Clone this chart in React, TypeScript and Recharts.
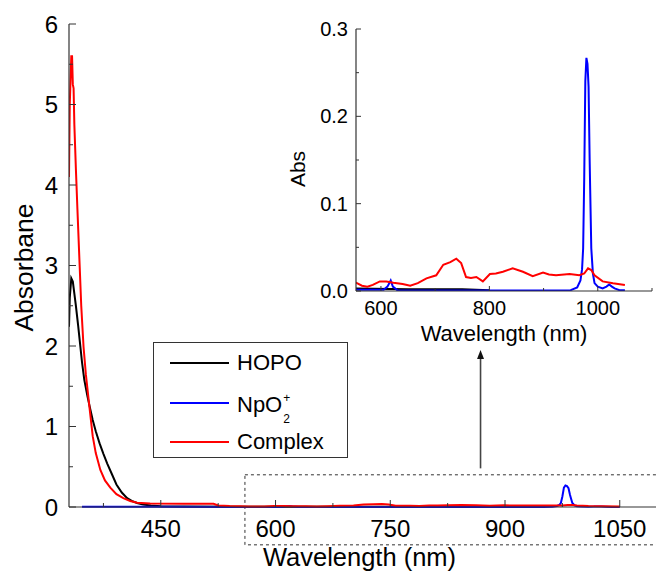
import React from 'react';
import { LineChart, Line, XAxis, YAxis, ReferenceArea, ReferenceLine, Legend } from 'recharts';

// ---------- data ----------
const hopoNm = [330, 331, 333, 335, 337, 339, 342, 344, 347, 350, 354, 357, 361, 365, 370, 375, 380, 386, 392, 399, 406, 412, 419, 427, 437, 450, 480, 550, 650, 750, 800];
const hopoAbs = [2.24, 2.6, 2.84, 2.8, 2.65, 2.5, 2.25, 2.07, 1.8, 1.58, 1.38, 1.25, 1.08, 0.94, 0.79, 0.66, 0.54, 0.41, 0.28, 0.18, 0.11, 0.075, 0.05, 0.03, 0.018, 0.01, 0.006, 0.003, 0.002, 0.002, 0.001];

const npoNm = [347, 450, 550, 605, 612, 618, 622, 630, 700, 800, 950, 962, 968, 971, 973, 975, 977, 979, 981, 983, 985, 986, 988, 991, 994, 1000, 1009, 1016, 1021, 1026, 1031, 1040, 1050];
const npoAbs = [0.002, 0.002, 0.0015, 0.0015, 0.005, 0.012, 0.005, 0.001, 0.0005, 0.0005, 0.001, 0.004, 0.012, 0.025, 0.049, 0.13, 0.24, 0.267, 0.26, 0.234, 0.15, 0.116, 0.049, 0.02, 0.009, 0.005, 0.003, 0.005, 0.0075, 0.005, 0.003, 0.001, 0.001];

const complexNm = [330, 331, 332, 333, 334, 335, 336, 337, 339, 341, 344, 346, 349, 352, 357, 361, 365, 371, 377, 384, 392, 401, 410, 419, 436, 480, 519, 525, 540, 554, 565, 575, 585, 598, 610, 623, 640, 654, 668, 684, 702, 715, 728, 739, 748, 757, 766, 776, 788, 801, 812, 825, 843, 862, 880, 899, 910, 923, 948, 966, 975, 982, 988, 994, 1009, 1028, 1050];
const complexAbs = [4.1, 5.0, 5.3, 5.6, 5.6, 5.25, 5.2, 4.75, 4.2, 3.7, 2.98, 2.5, 1.99, 1.65, 1.22, 0.88, 0.67, 0.46, 0.33, 0.24, 0.16, 0.11, 0.075, 0.053, 0.045, 0.04, 0.04, 0.02, 0.012, 0.0095, 0.006, 0.005, 0.007, 0.011, 0.011, 0.0095, 0.008, 0.006, 0.009, 0.0145, 0.018, 0.03, 0.033, 0.037, 0.032, 0.016, 0.015, 0.016, 0.011, 0.0195, 0.02, 0.022, 0.026, 0.022, 0.017, 0.021, 0.019, 0.018, 0.0195, 0.018, 0.02, 0.026, 0.024, 0.018, 0.011, 0.009, 0.007];

const seriesNames = ['HOPO', 'NpO2+', 'Complex'];
const seriesColors = ['#000000', '#0000ff', '#ff0000'];

const mainXDomain = [330, 1100];
const mainYDomain = [0, 6];
const mainXTicks = [450, 600, 750, 900, 1050];
const mainXMinorTicks = [375, 525, 675, 825, 975];
const mainYTicks = [0, 1, 2, 3, 4, 5, 6];
const mainYMinorTicks = [0.5, 1.5, 2.5, 3.5, 4.5, 5.5];

const insetXDomain = [554, 1100];
const insetYDomain = [0, 0.3];
const insetXTicks = [600, 800, 1000];
const insetXMinorTicks = [700, 900, 1100];
const insetYTicks = [0, 0.1, 0.2, 0.3];
const insetYMinorTicks = [0.05, 0.15, 0.25];

// zoom-box annotation (data coordinates)
const zoomBoxX = [560, 1130];
const zoomBoxY = [-0.47, 0.4];
const arrowX = 868;
const arrowY = [0.48, 1.95];

const toPoints = (xs: number[], ys: number[]) => xs.map((x, i) => ({ x, y: ys[i] }));
const hopoData = toPoints(hopoNm, hopoAbs);
const npoData = toPoints(npoNm, npoAbs);
const complexData = toPoints(complexNm, complexAbs);
const seriesData = [hopoData, npoData, complexData];

const FONT = "'Liberation Sans', Arial, Helvetica, sans-serif";
const AXIS = '#333333';

const has = (arr: number[], v: number) => arr.some((t) => Math.abs(t - v) < 1e-6);

// ---------- ticks ----------
const MainXTick = (props: any) => {
  const { x, y, payload } = props;
  const major = has(mainXTicks, payload.value);
  return (
    <g>
      <line x1={x} y1={y} x2={x} y2={y - (major ? 7 : 4)} stroke={AXIS} strokeWidth={1} />
      {major && (
        <text x={x} y={y + 30} textAnchor="middle" fontSize={24} fontFamily={FONT} fill="#000">
          {payload.value}
        </text>
      )}
    </g>
  );
};

const MainYTick = (props: any) => {
  const { x, y, payload } = props;
  const major = has(mainYTicks, payload.value);
  return (
    <g>
      <line x1={x} y1={y} x2={x + (major ? 7 : 4)} y2={y} stroke={AXIS} strokeWidth={1} />
      {major && (
        <text x={x - 11} y={y + 8.5} textAnchor="end" fontSize={24} fontFamily={FONT} fill="#000">
          {payload.value}
        </text>
      )}
    </g>
  );
};

const InsetXTick = (props: any) => {
  const { x, y, payload } = props;
  const major = has(insetXTicks, payload.value);
  return (
    <g>
      <line x1={x} y1={y} x2={x} y2={y - (major ? 5 : 3)} stroke={AXIS} strokeWidth={1} />
      {major && (
        <text x={x} y={y + 24} textAnchor="middle" fontSize={20} fontFamily={FONT} fill="#000">
          {payload.value}
        </text>
      )}
    </g>
  );
};

const InsetYTick = (props: any) => {
  const { x, y, payload } = props;
  const major = has(insetYTicks, payload.value);
  return (
    <g>
      <line x1={x} y1={y} x2={x + (major ? 5 : 3)} y2={y} stroke={AXIS} strokeWidth={1} />
      {major && (
        <text x={x - 8} y={y + 7} textAnchor="end" fontSize={20} fontFamily={FONT} fill="#000">
          {Number(payload.value).toFixed(1)}
        </text>
      )}
    </g>
  );
};

// ---------- labels ----------
const MainXLabel = (props: any) => {
  const vb = props.viewBox;
  return (
    <text x={vb.x + vb.width / 2 - 4} y={vb.y + 59} textAnchor="middle" fontSize={25.5} fontFamily={FONT} fill="#000">
      Wavelength (nm)
    </text>
  );
};
const MainYLabel = (props: any) => {
  const vb = props.viewBox;
  const cx = vb.x + 33;
  const cy = vb.y + vb.height / 2 + 2;
  return (
    <text x={cx} y={cy} transform={`rotate(-90 ${cx} ${cy})`} textAnchor="middle" fontSize={26.5} fontFamily={FONT} fill="#000">
      Absorbane
    </text>
  );
};
const InsetXLabel = (props: any) => {
  const vb = props.viewBox;
  return (
    <text x={vb.x + vb.width / 2} y={vb.y + 50} textAnchor="middle" fontSize={22} fontFamily={FONT} fill="#000">
      Wavelength (nm)
    </text>
  );
};
const InsetYLabel = (props: any) => {
  const vb = props.viewBox;
  const cx = vb.x + 35;
  const cy = vb.y + vb.height / 2 + 9;
  return (
    <text x={cx} y={cy} transform={`rotate(-90 ${cx} ${cy})`} textAnchor="middle" fontSize={21} fontFamily={FONT} fill="#000">
      Abs
    </text>
  );
};

// ---------- arrow ----------
const ArrowShape = (props: any) => {
  const { x1, y1, x2, y2 } = props;
  const top = Math.min(y1, y2);
  const bottom = Math.max(y1, y2);
  const x = (x1 + x2) / 2;
  return (
    <g>
      <line x1={x} y1={bottom} x2={x} y2={top + 7} stroke="#444" strokeWidth={1.6} />
      <polygon points={`${x},${top} ${x - 3.5},${top + 9} ${x + 3.5},${top + 9}`} fill="#111" />
    </g>
  );
};

// ---------- legend ----------
const SeriesName = ({ name }: { name: string }) => {
  if (name === 'NpO2+') {
    return (
      <span>
        NpO
        <span style={{ position: 'relative', display: 'inline-block', width: 10, height: 22, fontSize: 12, lineHeight: '12px' }}>
          <span style={{ position: 'absolute', left: 1, top: 2 }}>+</span>
          <span style={{ position: 'absolute', left: 1, top: 23 }}>2</span>
        </span>
      </span>
    );
  }
  return <span>{name}</span>;
};

const LegendBox = (props: any) => {
  const payload = [...(props.payload || [])].sort(
    (a: any, b: any) => seriesNames.indexOf(a.value) - seriesNames.indexOf(b.value)
  );
  return (
    <div
      style={{
        width: 195,
        height: 116,
        boxSizing: 'border-box',
        border: '1.5px solid #333',
        background: '#fff',
        position: 'relative',
        fontFamily: FONT,
        fontSize: 22,
        color: '#000',
      }}
    >
      {payload.map((p: any, i: number) => (
        <div key={p.value} style={{ position: 'absolute', left: 0, top: 20 + i * 39.5, height: 0, width: '100%' }}>
          <div style={{ position: 'absolute', left: 16, top: -1, width: 59, height: 2, background: p.color }} />
          <div style={{ position: 'absolute', left: 83, top: -13, lineHeight: '26px', whiteSpace: 'nowrap' }}>
            <SeriesName name={p.value} />
          </div>
        </div>
      ))}
    </div>
  );
};

export default function App() {
  return (
    <div style={{ position: 'absolute', left: 0, top: 0, width: 656, height: 571, overflow: 'hidden', background: '#fff' }}>
      <div style={{ position: 'absolute', left: 0, top: 0 }}>
        <LineChart width={700} height={571} margin={{ top: 24, right: 42, bottom: 0, left: 0 }}>
          <XAxis
            dataKey="x"
            type="number"
            domain={mainXDomain}
            ticks={[...mainXMinorTicks, ...mainXTicks].sort((a, b) => a - b)}
            interval={0}
            allowDataOverflow
            tick={<MainXTick />}
            tickLine={false}
            tickSize={0}
            tickMargin={0}
            height={64}
            axisLine={{ stroke: AXIS, strokeWidth: 1.2 }}
            label={MainXLabel}
          />
          <YAxis
            type="number"
            domain={mainYDomain}
            ticks={[...mainYMinorTicks, ...mainYTicks].sort((a, b) => a - b)}
            interval={0}
            tick={<MainYTick />}
            tickLine={false}
            tickSize={0}
            tickMargin={0}
            width={69}
            axisLine={{ stroke: AXIS, strokeWidth: 1.2 }}
            label={MainYLabel}
          />
          <ReferenceArea
            x1={zoomBoxX[0]}
            x2={zoomBoxX[1]}
            y1={zoomBoxY[0]}
            y2={zoomBoxY[1]}
            ifOverflow="visible"
            fill="none"
            fillOpacity={0}
            stroke="#333"
            strokeWidth={1}
            strokeDasharray="3 3"
          />
          <ReferenceLine
            segment={[{ x: arrowX, y: arrowY[0] }, { x: arrowX, y: arrowY[1] }]}
            ifOverflow="visible"
            shape={ArrowShape}
          />
          {seriesNames.map((name, i) => (
            <Line
              key={name}
              data={seriesData[i]}
              dataKey="y"
              name={name}
              type="linear"
              stroke={seriesColors[i]}
              strokeWidth={2}
              dot={false}
              activeDot={false}
              isAnimationActive={false}
            />
          ))}
          <Legend
            layout="vertical"
            align="center"
            verticalAlign="middle"
            content={<LegendBox />}
            wrapperStyle={{ left: 153, top: 342, width: 195, height: 116 }}
          />
        </LineChart>
      </div>
      <div style={{ position: 'absolute', left: 270, top: 0 }}>
        <LineChart width={386} height={350} margin={{ top: 29, right: 4, bottom: 0, left: 0 }}>
          <XAxis
            dataKey="x"
            type="number"
            domain={insetXDomain}
            ticks={[...insetXTicks, ...insetXMinorTicks].sort((a, b) => a - b)}
            interval={0}
            allowDataOverflow
            tick={<InsetXTick />}
            tickLine={false}
            tickSize={0}
            tickMargin={0}
            height={59}
            axisLine={{ stroke: AXIS, strokeWidth: 1.2 }}
            label={InsetXLabel}
          />
          <YAxis
            type="number"
            domain={insetYDomain}
            ticks={[...insetYTicks, ...insetYMinorTicks].sort((a, b) => a - b)}
            interval={0}
            allowDataOverflow
            tick={<InsetYTick />}
            tickLine={false}
            tickSize={0}
            tickMargin={0}
            width={86}
            axisLine={{ stroke: AXIS, strokeWidth: 1.2 }}
            label={InsetYLabel}
          />
          {seriesNames.map((name, i) => (
            <Line
              key={name}
              data={seriesData[i]}
              dataKey="y"
              name={name}
              type="linear"
              stroke={seriesColors[i]}
              strokeWidth={2}
              dot={false}
              activeDot={false}
              isAnimationActive={false}
            />
          ))}
        </LineChart>
      </div>
    </div>
  );
}
